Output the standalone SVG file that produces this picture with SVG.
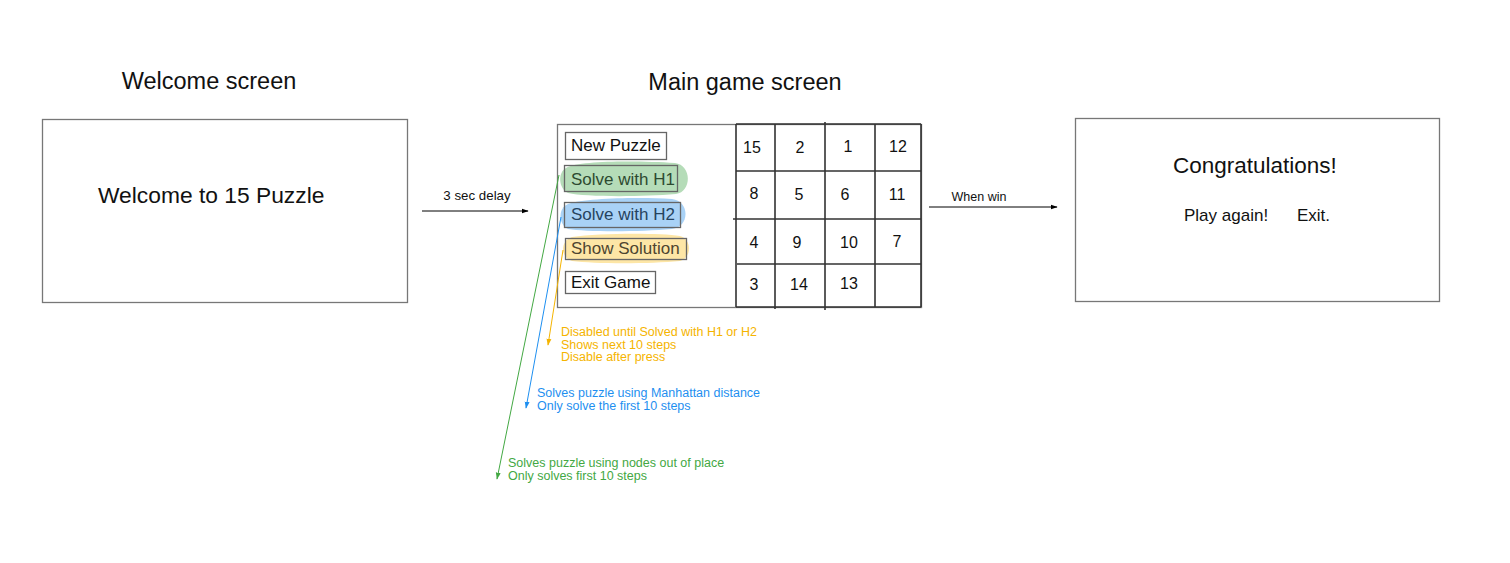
<svg xmlns="http://www.w3.org/2000/svg" width="1510" height="563" viewBox="0 0 1510 563">
<defs>
<style>
text{font-family:"Liberation Sans",Arial,sans-serif;fill:#111}
.title{font-size:23.5px;text-anchor:middle}
.big{font-size:22.8px}
.btn{font-size:17px}
.num{font-size:16px;text-anchor:middle}
.lbl{font-size:12.5px;text-anchor:middle}
.box{fill:#fff;stroke:#777;stroke-width:1.3}
.bbox{fill:none;stroke:#666;stroke-width:1.3}
.grid{stroke:#333;stroke-width:1.6;fill:none}
.note{font-size:12.5px}
.or{fill:#f5b400}
.bl{fill:#1e8ff0}
.gr{fill:#43a843}
</style>
<marker id="ab" viewBox="0 0 10 10" refX="9" refY="5" markerWidth="7" markerHeight="7" orient="auto"><path d="M0,1.5 L10,5 L0,8.5 Z" fill="#000"/></marker>
<marker id="ag" viewBox="0 0 10 10" refX="9" refY="5" markerWidth="7" markerHeight="7" orient="auto"><path d="M0,1.5 L10,5 L0,8.5 Z" fill="#43a843"/></marker>
<marker id="abl" viewBox="0 0 10 10" refX="9" refY="5" markerWidth="7" markerHeight="7" orient="auto"><path d="M0,1.5 L10,5 L0,8.5 Z" fill="#1e8ff0"/></marker>
<marker id="ao" viewBox="0 0 10 10" refX="9" refY="5" markerWidth="7" markerHeight="7" orient="auto"><path d="M0,1.5 L10,5 L0,8.5 Z" fill="#f5b400"/></marker>
</defs>
<rect width="1510" height="563" fill="#fff"/>

<g id="welcome">
<text class="title" x="209" y="89">Welcome screen</text>
<rect class="box" x="42.5" y="119.5" width="365" height="183"/>
<text class="big" x="98" y="203">Welcome to 15 Puzzle</text>
</g>

<g id="main">
<text class="title" x="745" y="90">Main game screen</text>
<rect class="box" x="557.5" y="124.5" width="364" height="183"/>
<g id="buttons">
<rect class="bbox" x="565.5" y="132.5" width="101" height="27"/>
<text class="btn" x="571" y="151">New Puzzle</text>
<path d="M566,168 C580,160 640,161 675,163 C692,165 692,192 676,194 C640,197 585,197 568,193 C558,188 558,172 566,168 Z" fill="#b5dcb8"/>
<rect class="bbox" x="564.5" y="165.5" width="113" height="26"/>
<text class="btn" x="571" y="185" style="fill:#2d4a30">Solve with H1</text>
<path d="M568,204 C585,198 640,197 672,199 C690,201 690,227 672,229 C640,232 585,232 568,229 C558,224 558,208 568,204 Z" fill="#a9d2f6"/>
<rect class="bbox" x="564.5" y="202.5" width="116" height="25"/>
<text class="btn" x="571" y="220" style="fill:#26435e">Solve with H2</text>
<path d="M572,237 C600,233 660,233 680,236 C692,239 692,258 680,261 C650,264 595,264 572,261 C560,257 560,241 572,237 Z" fill="#fde6a6"/>
<rect class="bbox" x="565.5" y="238.5" width="121" height="21"/>
<text class="btn" x="571" y="254" style="fill:#4d4530">Show Solution</text>
<rect class="bbox" x="565.5" y="271.5" width="90" height="22"/>
<text class="btn" x="571" y="288">Exit Game</text>
</g>
<g id="board">
<path class="grid" d="M736,124 V307 M775,124 V309 M825,122 V310 M875,124 V307 M921,124 V307 M736,124 H921 M736,307 H921 M736,171 H921 M733,219 H921 M737,264 H921"/>
<text class="num" x="752" y="153">15</text>
<text class="num" x="800" y="153">2</text>
<text class="num" x="848" y="152">1</text>
<text class="num" x="898" y="152">12</text>
<text class="num" x="754" y="199">8</text>
<text class="num" x="799" y="200">5</text>
<text class="num" x="845" y="200">6</text>
<text class="num" x="897" y="200">11</text>
<text class="num" x="754" y="248">4</text>
<text class="num" x="797" y="248">9</text>
<text class="num" x="849" y="248">10</text>
<text class="num" x="897" y="247">7</text>
<text class="num" x="754" y="290">3</text>
<text class="num" x="799" y="290">14</text>
<text class="num" x="849" y="289">13</text>
</g>
</g>

<g id="congrats">
<rect class="box" x="1075.5" y="118.5" width="364" height="183"/>
<text class="big" x="1173" y="173" style="font-size:22.5px">Congratulations!</text>
<text class="btn" x="1184" y="221">Play again!</text>
<text class="btn" x="1297" y="221">Exit.</text>
</g>

<g id="notes">
<text class="note or" x="561" y="336">Disabled until Solved with H1 or H2</text>
<text class="note or" x="561" y="349">Shows next 10 steps</text>
<text class="note or" x="561" y="361">Disable after press</text>
<text class="note bl" x="537" y="397">Solves puzzle using Manhattan distance</text>
<text class="note bl" x="537" y="410">Only solve the first 10 steps</text>
<text class="note gr" x="508" y="467">Solves puzzle using nodes out of place</text>
<text class="note gr" x="508" y="480">Only solves first 10 steps</text>
</g>

<g id="connectors">
<line x1="422" y1="211" x2="528" y2="211" stroke="#000" stroke-width="1" marker-end="url(#ab)"/>
<text class="lbl" x="477" y="200" style="font-size:13.3px">3 sec delay</text>
<line x1="929" y1="207" x2="1057" y2="207" stroke="#000" stroke-width="1" marker-end="url(#ab)"/>
<text class="lbl" x="979" y="201">When win</text>
<line x1="559" y1="175" x2="497" y2="479" stroke="#43a843" stroke-width="1" marker-end="url(#ag)"/>
<line x1="561" y1="217" x2="526" y2="408" stroke="#1e8ff0" stroke-width="1" marker-end="url(#abl)"/>
<line x1="563" y1="250" x2="548" y2="345" stroke="#f5b400" stroke-width="1" marker-end="url(#ao)"/>
</g>
</svg>
